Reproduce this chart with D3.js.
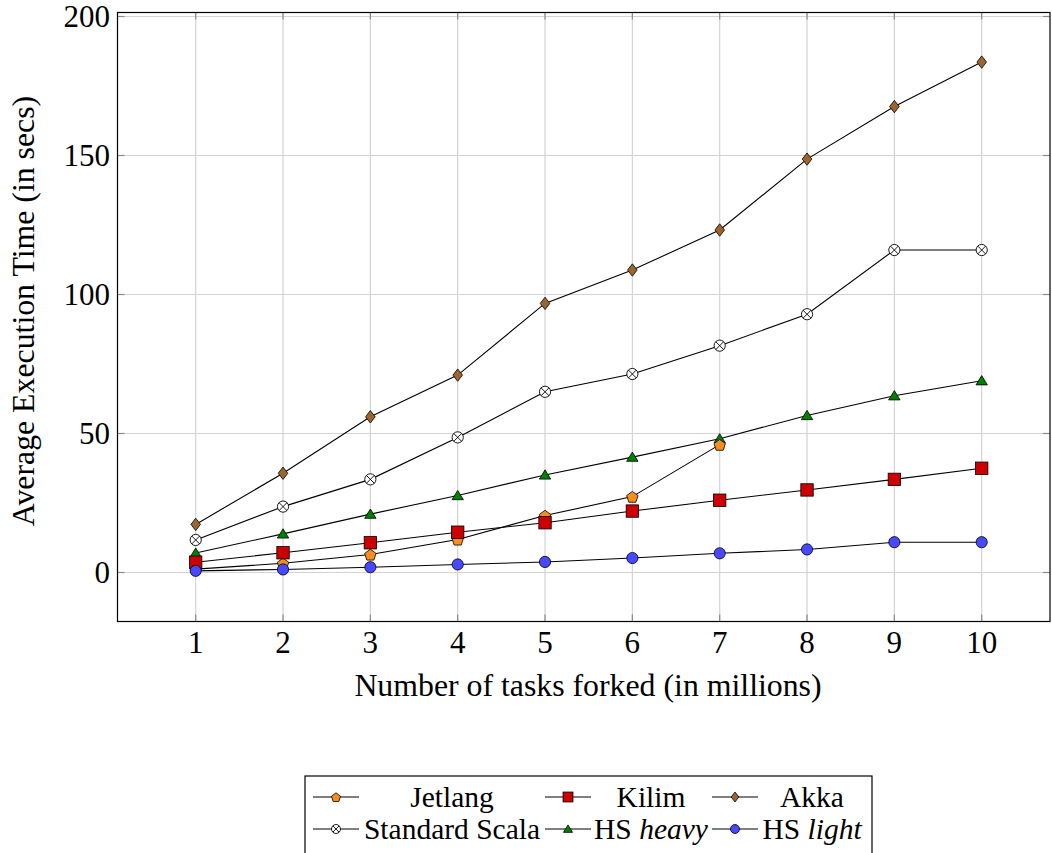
<!DOCTYPE html>
<html><head><meta charset="utf-8">
<script src="https://cdn.jsdelivr.net/npm/d3@7"></script>
<style>body{margin:0;background:#fff}svg{display:block}</style>
</head><body>
<svg id="c" width="1052" height="853"></svg>
<script>
const tasks = [1,2,3,4,5,6,7,8,9,10];
const jetlang = [1.2,3.3,6.5,11.9,20.5,27.3,46.0];
const kilim = [3.7,7.1,10.7,14.5,17.9,22.1,26.0,29.7,33.5,37.5];
const akka = [17.3,35.7,56.0,71.0,96.8,108.8,123.2,148.7,167.6,183.6];
const scala = [11.7,23.7,33.5,48.6,65.0,71.4,81.6,92.9,116.0,116.0];
const hsHeavy = [7.0,13.9,21.0,27.7,35.1,41.5,48.1,56.5,63.6,69.0];
const hsLight = [0.6,1.1,1.9,2.9,3.8,5.2,6.9,8.3,10.9,10.9];
const yTicks = [0,50,100,150,200];
const xTicks = [1,2,3,4,5,6,7,8,9,10];
const xLabel = "Number of tasks forked (in millions)";
const yLabel = "Average Execution Time (in secs)";

const FONT = "'Liberation Serif', 'DejaVu Serif', serif";
const svg = d3.select("#c");
const L = 117.5, R = 1050, T = 12.5, B = 621.5;
const x = d3.scaleLinear().domain([1,10]).range([195.7,981.7]);
const y = d3.scaleLinear().domain([0,200]).range([572.5,16.5]);

// grid
const g = svg.append("g");
g.selectAll(".gx").data(xTicks).join("line")
  .attr("x1",d=>x(d)).attr("x2",d=>x(d)).attr("y1",T).attr("y2",B)
  .attr("stroke","#d3d3d3").attr("stroke-width",1.2);
g.selectAll(".gy").data(yTicks).join("line")
  .attr("y1",d=>y(d)).attr("y2",d=>y(d)).attr("x1",L).attr("x2",R)
  .attr("stroke","#d3d3d3").attr("stroke-width",1.2);

// ticks (inward, on all four sides)
const tl = 7, tc = "#8a8a8a";
xTicks.forEach(d=>{
  g.append("line").attr("x1",x(d)).attr("x2",x(d)).attr("y1",B).attr("y2",B-tl).attr("stroke",tc).attr("stroke-width",1.2);
  g.append("line").attr("x1",x(d)).attr("x2",x(d)).attr("y1",T).attr("y2",T+tl).attr("stroke",tc).attr("stroke-width",1.2);
});
yTicks.forEach(d=>{
  g.append("line").attr("y1",y(d)).attr("y2",y(d)).attr("x1",L).attr("x2",L+tl).attr("stroke",tc).attr("stroke-width",1.2);
  g.append("line").attr("y1",y(d)).attr("y2",y(d)).attr("x1",R).attr("x2",R-tl).attr("stroke",tc).attr("stroke-width",1.2);
});

// frame
svg.append("rect").attr("x",L).attr("y",T).attr("width",R-L).attr("height",B-T)
  .attr("fill","none").attr("stroke","#000").attr("stroke-width",1.2);

// tick labels
svg.selectAll(".xt").data(xTicks).join("text")
  .attr("x",d=>x(d)).attr("y",653).attr("text-anchor","middle")
  .attr("font-family",FONT).attr("font-size",31).text(d=>d);
svg.selectAll(".yt").data(yTicks).join("text")
  .attr("x",110).attr("y",d=>y(d)+10.5).attr("text-anchor","end")
  .attr("font-family",FONT).attr("font-size",31).text(d=>d);

// axis labels
svg.append("text").attr("x",588).attr("y",696).attr("text-anchor","middle")
  .attr("font-family",FONT).attr("font-size",31.8).text(xLabel);
svg.append("text").attr("transform","translate(34,311) rotate(-90)").attr("text-anchor","middle")
  .attr("font-family",FONT).attr("font-size",31.8).text(yLabel);

// markers
function drawMarker(sel, type, fill, s){
  const k = s || 1;
  if(type==="pentagon"){
    const r = 6*k;
    const pts = d3.range(5).map(i=>{const a=-Math.PI/2+i*2*Math.PI/5;return [r*Math.cos(a), r*Math.sin(a)+0.8*k];});
    sel.append("path").attr("d","M"+pts.join("L")+"Z").attr("fill",fill).attr("stroke","#000").attr("stroke-width",0.8);
  } else if(type==="square"){
    const h = 6.2*k;
    sel.append("rect").attr("x",-h).attr("y",-h).attr("width",2*h).attr("height",2*h).attr("fill",fill).attr("stroke","#000").attr("stroke-width",0.8);
  } else if(type==="diamond"){
    const w=4.8*k, h=6.2*k;
    sel.append("path").attr("d",`M0,${-h}L${w},0L0,${h}L${-w},0Z`).attr("fill",fill).attr("stroke","#000").attr("stroke-width",0.8);
  } else if(type==="otimes"){
    const r=5.6*k, q=r*0.7071;
    sel.append("circle").attr("r",r).attr("fill","#fff").attr("stroke","#000").attr("stroke-width",0.9);
    sel.append("path").attr("d",`M${-q},${-q}L${q},${q}M${-q},${q}L${q},${-q}`).attr("stroke","#000").attr("stroke-width",0.9);
  } else if(type==="triangle"){
    const r=6*k;
    sel.append("path").attr("d",`M0,${-r}L${r*0.95},${r*0.55}L${-r*0.95},${r*0.55}Z`).attr("transform",`translate(0,${r*0.15})`).attr("fill",fill).attr("stroke","#000").attr("stroke-width",0.8);
  } else if(type==="circle"){
    sel.append("circle").attr("r",5.6*k).attr("fill",fill).attr("stroke","#000").attr("stroke-width",0.8);
  }
}

const series = [
  {name:"Akka", vals:akka, type:"diamond", color:"#9c6530"},
  {name:"Standard Scala", vals:scala, type:"otimes", color:"#fff"},
  {name:"HS heavy", vals:hsHeavy, type:"triangle", color:"#008000"},
  {name:"Jetlang", vals:jetlang, type:"pentagon", color:"#f78d1e"},
  {name:"Kilim", vals:kilim, type:"square", color:"#cc0000"},
  {name:"HS light", vals:hsLight, type:"circle", color:"#4848ff"}
];
const line = d3.line().x(d=>x(d[0])).y(d=>y(d[1]));
series.forEach(s=>{
  const pts = s.vals.map((v,i)=>[tasks[i],v]);
  svg.append("path").attr("d",line(pts)).attr("fill","none").attr("stroke","#000").attr("stroke-width",1.1);
  pts.forEach(p=>{
    const m = svg.append("g").attr("transform",`translate(${x(p[0])},${y(p[1])})`);
    drawMarker(m, s.type, s.color);
  });
});

// legend
const byName = {}; series.forEach(s=>byName[s.name]=s);
const lg = svg.append("g");
lg.append("rect").attr("x",305).attr("y",776).attr("width",567).attr("height",90)
  .attr("fill","#fff").attr("stroke","#000").attr("stroke-width",1.2);
const legendRows = [["Jetlang","Kilim","Akka"],["Standard Scala","HS heavy","HS light"]];
const imgX = [336,568,735];
const txtX = [452,651,812];
const rowY = [797,829];
legendRows.forEach((row,ri)=>{
  row.forEach((name,ci)=>{
    const s = byName[name];
    const cx = imgX[ci], cy = rowY[ri];
    lg.append("line").attr("x1",cx-23).attr("x2",cx+23).attr("y1",cy).attr("y2",cy).attr("stroke","#000").attr("stroke-width",1.1);
    const m = lg.append("g").attr("transform",`translate(${cx},${cy})`);
    drawMarker(m, s.type, s.color, 0.8);
    const t = lg.append("text").attr("x",txtX[ci]).attr("y",cy+9.5).attr("text-anchor","middle")
      .attr("font-family",FONT).attr("font-size",29.5);
    if(name.startsWith("HS ")){
      t.append("tspan").text("HS ");
      t.append("tspan").attr("font-style","italic").text(name.slice(3));
    } else t.text(name);
  });
});
</script>
</body></html>
